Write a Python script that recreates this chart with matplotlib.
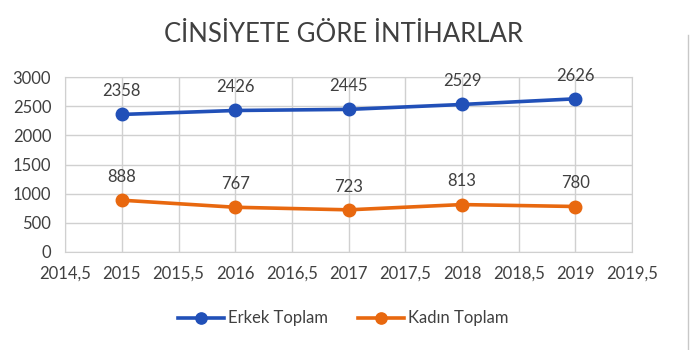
import matplotlib
matplotlib.use("Agg")
import matplotlib.pyplot as plt
from matplotlib.lines import Line2D

years = [2015, 2016, 2017, 2018, 2019]
erkek = [2358, 2426, 2445, 2529, 2626]
kadin = [888, 767, 723, 813, 780]
xticks = [2014.5, 2015, 2015.5, 2016, 2016.5, 2017, 2017.5, 2018, 2018.5, 2019, 2019.5]
yticks = [0, 500, 1000, 1500, 2000, 2500, 3000]

plt.rcParams['font.family'] = ['Lato', 'DejaVu Sans']
txt = '#404040'
blue = '#2150B8'
orange = '#E8680F'

fig = plt.figure(figsize=(7, 3.5), dpi=100)
ax = fig.add_axes([0.093, 0.28, 0.81, 0.50])

ax.plot(years, erkek, color=blue, lw=2.6, marker='o', ms=9, label='Erkek Toplam')
ax.plot(years, kadin, color=orange, lw=2.6, marker='o', ms=9, label='Kadın Toplam')
for x, v in zip(years, erkek):
    ax.annotate(str(v), (x, v), xytext=(0, 11), textcoords='offset points',
                ha='center', va='bottom', fontsize=12, color=txt)
for x, v in zip(years, kadin):
    ax.annotate(str(v), (x, v), xytext=(0, 11), textcoords='offset points',
                ha='center', va='bottom', fontsize=12, color=txt)

ax.set_xlim(2014.5, 2019.5)
ax.set_ylim(0, 3000)
ax.set_xticks(xticks)
ax.set_xticklabels([str(t).replace('.', ',') if t % 1 else str(int(t)) for t in xticks])
ax.set_yticks(yticks)
ax.grid(True, color='#d0d0d0', lw=1)
ax.set_axisbelow(True)
for s in ax.spines.values():
    s.set_color('#d0d0d0')
ax.tick_params(length=0, labelsize=12, colors=txt, pad=10)

fig.text(0.49, 0.9, 'CİNSİYETE GÖRE İNTİHARLAR', ha='center', va='center',
         fontsize=18.5, color=txt)
fig.legend(loc='center', bbox_to_anchor=(0.49, 0.09), ncol=2, frameon=False,
           fontsize=12, labelcolor=txt, handlelength=2.8, handletextpad=0.2,
           columnspacing=1.8, markerscale=0.9)
fig.add_artist(Line2D([0.983, 0.983], [0.0, 0.9], color='#c8c8c8', lw=1))

fig.savefig('out.png', dpi=100)
